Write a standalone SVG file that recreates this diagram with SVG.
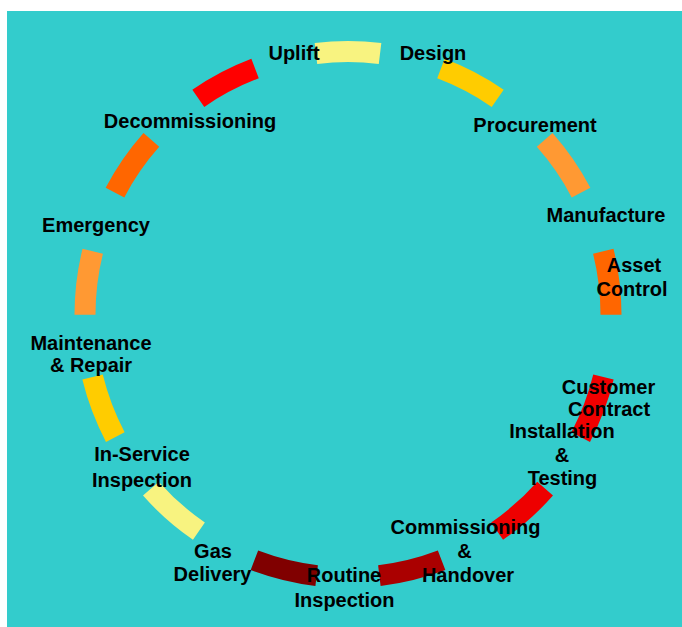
<svg xmlns="http://www.w3.org/2000/svg" width="682" height="627" viewBox="0 0 682 627">
  <style>
    .seg { fill: none; stroke-width: 21; stroke-linecap: butt; }
    .lbl { font-family: "Liberation Sans", Arial, sans-serif; font-weight: bold; font-size: 20px; fill: #000; text-anchor: middle; }
  </style>
  <rect x="7" y="11" width="675" height="616" fill="#33CCCC"/>

  <!-- ring of 13 arc segments, centre (348,314.5), radius 263 -->
  <g id="ring">
    <path class="seg" stroke="#F8F380" d="M315.95,53.46 A263,263 0 0 1 380.05,53.46"/>
    <path class="seg" stroke="#FFCC00" d="M440.93,68.47 A263,263 0 0 1 497.69,98.26"/>
    <path class="seg" stroke="#FF9933" d="M544.65,139.86 A263,263 0 0 1 581.03,192.57"/>
    <path class="seg" stroke="#FF6600" d="M603.27,251.22 A263,263 0 0 1 611.0,314.85"/>
    <path class="seg" stroke="#F00000" d="M603.44,377.10 A263,263 0 0 1 580.71,437.03"/>
    <path class="seg" stroke="#EE0000" d="M545.12,488.61 A263,263 0 0 1 497.09,531.16"/>
    <path class="seg" stroke="#AA0000" d="M441.59,560.28 A263,263 0 0 1 379.35,575.62"/>
    <path class="seg" stroke="#800000" d="M316.65,575.62 A263,263 0 0 1 254.41,560.28"/>
    <path class="seg" stroke="#F8F380" d="M198.91,531.16 A263,263 0 0 1 150.88,488.61"/>
    <path class="seg" stroke="#FFCC00" d="M115.29,437.03 A263,263 0 0 1 92.56,377.10"/>
    <path class="seg" stroke="#FF9933" d="M85.0,314.85 A263,263 0 0 1 92.73,251.22"/>
    <path class="seg" stroke="#FF6600" d="M114.97,192.57 A263,263 0 0 1 151.35,139.86"/>
    <path class="seg" stroke="#FF0000" d="M198.31,98.26 A263,263 0 0 1 255.07,68.47"/>
  </g>

  <g id="uplift"><text class="lbl" x="294" y="60">Uplift</text></g>
  <g id="design"><text class="lbl" x="433" y="60">Design</text></g>
  <g id="procurement"><text class="lbl" x="535" y="132">Procurement</text></g>
  <g id="manufacture"><text class="lbl" x="606" y="222">Manufacture</text></g>
  <g id="asset-control">
    <text class="lbl" x="634" y="272">Asset</text>
    <text class="lbl" x="632" y="296">Control</text>
  </g>
  <g id="customer-contract">
    <text class="lbl" x="608.5" y="393.5">Customer</text>
    <text class="lbl" x="609" y="416">Contract</text>
  </g>
  <g id="installation-testing">
    <text class="lbl" x="562" y="438">Installation</text>
    <text class="lbl" x="562" y="462">&amp;</text>
    <text class="lbl" x="562.5" y="485">Testing</text>
  </g>
  <g id="commissioning-handover">
    <text class="lbl" x="465.5" y="533.5">Commissioning</text>
    <text class="lbl" x="464.5" y="558">&amp;</text>
    <text class="lbl" x="468" y="582">Handover</text>
  </g>
  <g id="routine-inspection">
    <text class="lbl" x="344" y="582">Routine</text>
    <text class="lbl" x="344.5" y="607">Inspection</text>
  </g>
  <g id="gas-delivery">
    <text class="lbl" x="213" y="558">Gas</text>
    <text class="lbl" x="212.5" y="581">Delivery</text>
  </g>
  <g id="in-service-inspection">
    <text class="lbl" x="142" y="461">In-Service</text>
    <text class="lbl" x="142" y="487">Inspection</text>
  </g>
  <g id="maintenance-repair">
    <text class="lbl" x="91" y="350">Maintenance</text>
    <text class="lbl" x="91" y="372">&amp; Repair</text>
  </g>
  <g id="emergency"><text class="lbl" x="96" y="232">Emergency</text></g>
  <g id="decommissioning"><text class="lbl" x="190" y="128">Decommissioning</text></g>
</svg>
